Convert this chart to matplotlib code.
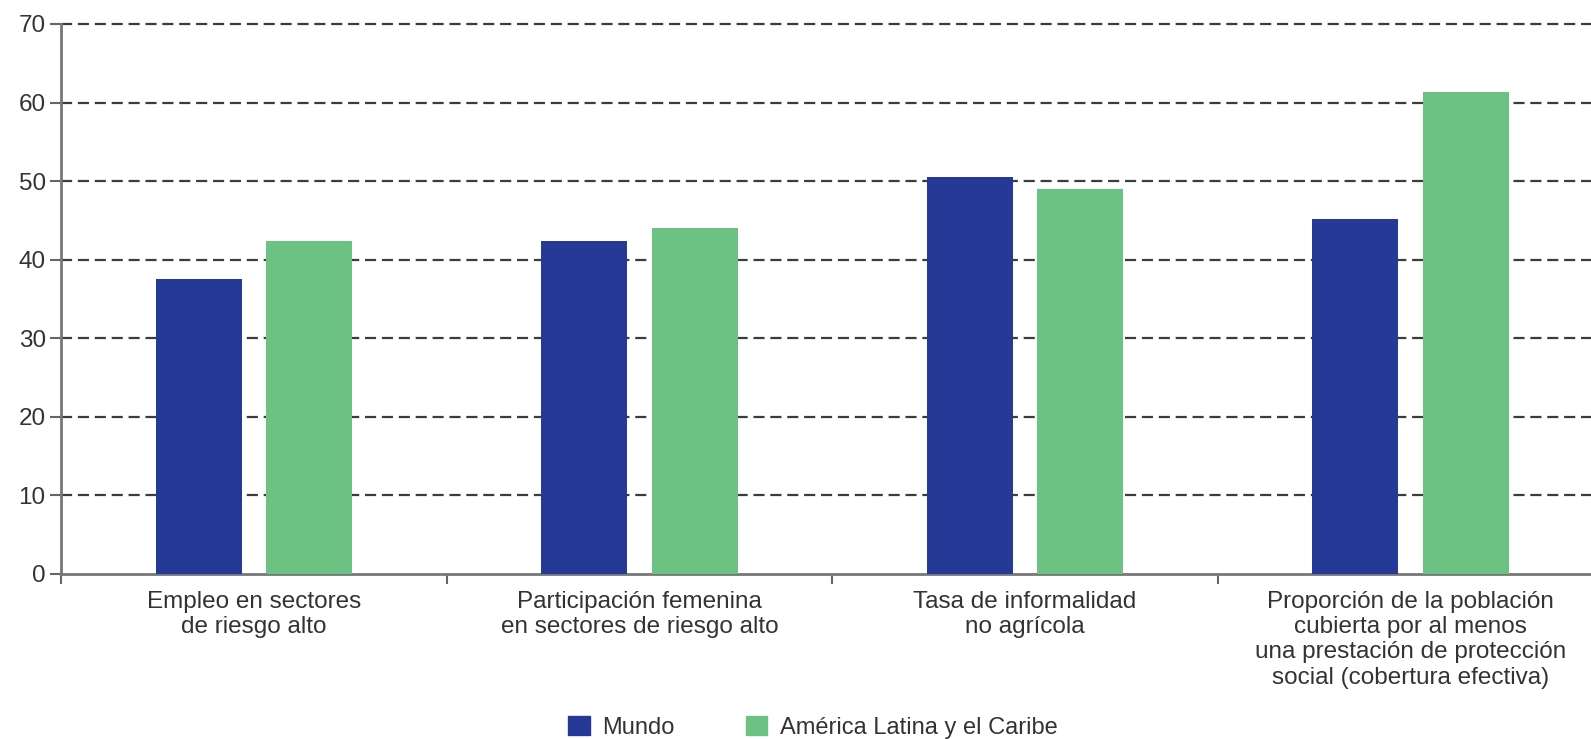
import matplotlib
matplotlib.use("Agg")
import matplotlib.pyplot as plt
import numpy as np
from matplotlib.patches import Patch

categories = [
    "Empleo en sectores\nde riesgo alto",
    "Participación femenina\nen sectores de riesgo alto",
    "Tasa de informalidad\nno agrícola",
    "Proporción de la población\ncubierta por al menos\nuna prestación de protección\nsocial (cobertura efectiva)",
]
series_names = ["Mundo", "América Latina y el Caribe"]
mundo = [37.5, 42.4, 50.5, 45.2]
alc = [42.4, 44.0, 49.0, 61.3]
yticks = [0, 10, 20, 30, 40, 50, 60, 70]

blue = "#243A96"
green = "#6BC283"
txt = "#333333"

plt.rcParams["font.family"] = ["Liberation Sans", "DejaVu Sans"]

fig = plt.figure(figsize=(15.91, 7.39), dpi=100)
ax = fig.add_axes([61 / 1591, 1 - 574 / 739, 1 - 61 / 1591, (574 - 24) / 739])

x = np.arange(len(categories))
w = 0.223
off = 0.143
ax.bar(x - off, mundo, w, color=blue, zorder=3)
ax.bar(x + off, alc, w, color=green, zorder=3)

ax.set_ylim(0, 70)
ax.set_xlim(-0.5, 3.468)
ax.set_yticks(yticks)
ax.set_yticklabels([str(v) for v in yticks])
for v in yticks[1:]:
    ax.axhline(v, color="#3c3c3c", lw=1.6, ls=(0, (5, 2.6)), zorder=1, clip_on=False)

ax.set_xticks(x)
ax.set_xticklabels(categories, fontsize=17.5, color=txt, linespacing=1.2)
ax.set_xticks([-0.5, 0.5, 1.5, 2.5], minor=True)
ax.tick_params(axis="x", which="major", length=0, pad=12)
ax.tick_params(axis="x", which="minor", length=7, width=1.5, color="#666666", direction="out")
ax.tick_params(axis="y", length=8, width=1.5, color="#666666", labelsize=17.5, labelcolor=txt, pad=3)

for s in ["top", "right"]:
    ax.spines[s].set_visible(False)
ax.spines["left"].set_color("#777777")
ax.spines["left"].set_linewidth(2)
ax.spines["bottom"].set_color("#777777")
ax.spines["bottom"].set_linewidth(2)

handles = [Patch(color=blue), Patch(color=green)]
fig.legend(handles, series_names, loc="center", bbox_to_anchor=(0.511, 0.016),
           ncol=2, frameon=False, fontsize=17, handlelength=0.9, handleheight=0.9,
           handletextpad=0.55, columnspacing=3.0, labelcolor=txt, borderpad=0)

fig.savefig("out.png", dpi=100)
